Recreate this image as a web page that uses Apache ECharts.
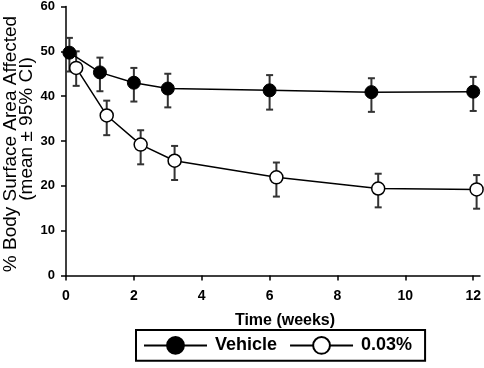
<!DOCTYPE html>
<html>
<head>
<meta charset="utf-8">
<script src="https://cdn.jsdelivr.net/npm/echarts@6/dist/echarts.min.js"></script>
<style>
  html, body { margin: 0; padding: 0; background: #fff; }
  #chart { width: 484px; height: 368px; }
</style>
</head>
<body>
<div id="chart"></div>
<script>
// ---- Data ----
const xTickLabels = [0, 2, 4, 6, 8, 10, 12];
const yTickLabels = [0, 10, 20, 30, 40, 50, 60];

const vehicleName = 'Vehicle';
const vehicleWeeks = [0.1, 1, 2, 3, 6, 9, 12];
const vehicleMean  = [49.7, 45.3, 43.0, 41.7, 41.3, 40.9, 41.0];
const vehicleLow   = [45.5, 41.1, 38.8, 37.5, 37.0, 36.5, 36.7];
const vehicleHigh  = [53.0, 48.6, 46.3, 45.0, 44.7, 44.0, 44.3];

const treatedName = '0.03%';
const treatedWeeks = [0.3, 1.2, 2.2, 3.2, 6.2, 9.2, 12.1];
const treatedMean  = [46.3, 35.7, 29.2, 25.6, 21.9, 19.4, 19.2];
const treatedLow   = [42.3, 31.3, 24.8, 21.3, 17.6, 15.2, 14.9];
const treatedHigh  = [50.0, 39.0, 32.4, 28.9, 25.2, 22.7, 22.4];

const xTitle = 'Time (weeks)';
const yTitle1 = '% Body Surface Area Affected';
const yTitle2 = '(mean \u00b1 95% CI)';

// ---- Build ----
const FONT = 'Liberation Sans, Arial, Helvetica, sans-serif';

function zip(xs, ys) { return xs.map((x, i) => [x, ys[i]]); }
function zipErr(xs, lo, hi) { return xs.map((x, i) => [x, lo[i], hi[i]]); }

function errorRender(params, api) {
  const x = api.value(0);
  const lo = api.coord([x, api.value(1)]);
  const hi = api.coord([x, api.value(2)]);
  const cap = 3.5;
  const style = { stroke: '#333', lineWidth: 2 };
  return {
    type: 'group',
    children: [
      { type: 'line', shape: { x1: lo[0], y1: lo[1], x2: hi[0], y2: hi[1] }, style },
      { type: 'line', shape: { x1: lo[0] - cap, y1: lo[1], x2: lo[0] + cap, y2: lo[1] }, style },
      { type: 'line', shape: { x1: hi[0] - cap, y1: hi[1], x2: hi[0] + cap, y2: hi[1] }, style }
    ]
  };
}

const chart = echarts.init(document.getElementById('chart'), null, { renderer: 'canvas' });

chart.setOption({
  animation: false,
  backgroundColor: '#fff',
  grid: { left: 66, right: 1, top: 5, bottom: 92.5, containLabel: false },
  xAxis: {
    type: 'value',
    min: 0,
    max: 12.2,
    interval: 2,
    splitLine: { show: false },
    axisLine: { onZero: false, lineStyle: { color: '#000', width: 1.5 } },
    axisTick: { show: true, length: 5, customValues: xTickLabels, lineStyle: { color: '#000', width: 1.5 } },
    axisLabel: {
      customValues: xTickLabels,
      margin: 14,
      color: '#000',
      fontFamily: FONT,
      fontWeight: 'bold',
      fontSize: 14
    },
    name: xTitle,
    nameLocation: 'middle',
    nameGap: 37,
    nameTextStyle: {
      color: '#000',
      fontFamily: FONT,
      fontWeight: 'bold',
      fontSize: 16,
      padding: [0, 0, 0, 24]
    }
  },
  yAxis: {
    type: 'value',
    min: 0,
    max: 60,
    interval: 10,
    splitLine: { show: false },
    axisLine: { show: true, lineStyle: { color: '#000', width: 1.5 } },
    axisTick: { show: true, length: 5, lineStyle: { color: '#000', width: 1.5 } },
    axisLabel: {
      margin: 11,
      color: '#000',
      fontFamily: FONT,
      fontWeight: 'bold',
      fontSize: 13
    }
  },
  graphic: [
    {
      type: 'text',
      x: 10.5, y: 144,
      rotation: Math.PI / 2,
      style: {
        text: yTitle1,
        fill: '#000',
        font: '19px ' + FONT,
        align: 'center',
        verticalAlign: 'middle'
      }
    },
    {
      type: 'text',
      x: 27, y: 129,
      rotation: Math.PI / 2,
      style: {
        text: yTitle2,
        fill: '#000',
        font: '19px ' + FONT,
        align: 'center',
        verticalAlign: 'middle'
      }
    }
  ],
  legend: {
    left: 136,
    top: 330,
    orient: 'horizontal',
    data: [vehicleName, treatedName],
    itemWidth: 63,
    itemHeight: 21,
    itemGap: 12,
    padding: [6, 13, 6, 7],
    borderColor: '#000',
    borderWidth: 2,
    textStyle: {
      color: '#000',
      fontFamily: FONT,
      fontWeight: 'bold',
      fontSize: 18,
      padding: [0, 0, 0, 3]
    }
  },
  series: [
    {
      type: 'custom',
      name: 'vehicleErr',
      renderItem: errorRender,
      data: zipErr(vehicleWeeks, vehicleLow, vehicleHigh),
      encode: { x: 0, y: [1, 2] },
      z: 1,
      silent: true
    },
    {
      type: 'custom',
      name: 'treatedErr',
      renderItem: errorRender,
      data: zipErr(treatedWeeks, treatedLow, treatedHigh),
      encode: { x: 0, y: [1, 2] },
      z: 1,
      silent: true
    },
    {
      type: 'line',
      name: treatedName,
      data: zip(treatedWeeks, treatedMean),
      symbol: 'circle',
      symbolSize: 13,
      showAllSymbol: true,
      lineStyle: { color: '#000', width: 1.5 },
      itemStyle: { color: '#fff', borderColor: '#000', borderWidth: 1.5 },
      z: 3
    },
    {
      type: 'line',
      name: vehicleName,
      data: zip(vehicleWeeks, vehicleMean),
      symbol: 'circle',
      symbolSize: 13,
      showAllSymbol: true,
      lineStyle: { color: '#000', width: 1.5 },
      itemStyle: { color: '#000', borderColor: '#000', borderWidth: 1 },
      z: 4
    }
  ]
});
</script>
</body>
</html>
